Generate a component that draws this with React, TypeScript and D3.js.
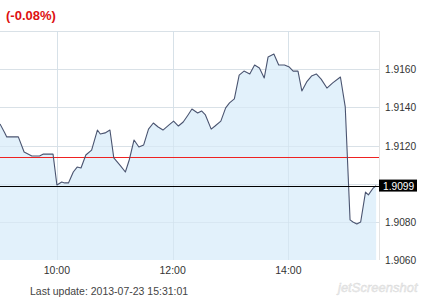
import React from "react";
import * as d3 from "d3";

const times: string[] = [
  "09:01","09:06","09:08","09:20","09:26","09:34","09:42","09:46","09:56","10:00",
  "10:05","10:08","10:12","10:17","10:21","10:25","10:30","10:36","10:42","10:45",
  "10:50","10:55","10:59","11:06","11:11","11:15","11:20","11:25","11:30","11:35",
  "11:40","11:45","11:50","11:56","12:01","12:06","12:11","12:16","12:20","12:26",
  "12:30","12:34","12:40","12:44","12:50","12:55","12:59","13:04","13:09","13:14",
  "13:20","13:25","13:30","13:35","13:39","13:45","13:50","13:56","14:01","14:05",
  "14:10","14:14","14:19","14:24","14:29","14:34","14:40","14:46","14:54","14:59",
  "15:04","15:07","15:11","15:15","15:20","15:23","15:28","15:31",
];
const prices: number[] = [
  1.91313,1.91266,1.91245,1.91245,1.91166,1.91145,1.91145,1.91155,1.91155,1.90993,
  1.91009,1.91004,1.91004,1.91061,1.91087,1.91082,1.91150,1.91176,1.91281,1.91260,
  1.91266,1.91281,1.91135,1.91093,1.91061,1.91124,1.91229,1.91192,1.91203,1.91286,
  1.91318,1.91297,1.91281,1.91307,1.91328,1.91302,1.91323,1.91360,1.91391,1.91370,
  1.91381,1.91360,1.91286,1.91302,1.91328,1.91397,1.91423,1.91444,1.91569,1.91590,
  1.91575,1.91622,1.91606,1.91554,1.91664,1.91679,1.91622,1.91622,1.91611,1.91590,
  1.91590,1.91486,1.91533,1.91564,1.91575,1.91548,1.91501,1.91528,1.91559,1.91402,
  1.90810,1.90799,1.90789,1.90799,1.90956,1.90941,1.90977,1.90990,
];
const yTicks: number[] = [1.906, 1.908, 1.91, 1.912, 1.914, 1.916, 1.918];
const yLabels: number[] = [1.906, 1.908, 1.912, 1.914, 1.916];
const xTicks: string[] = ["10:00", "12:00", "14:00"];
const prevClose = 1.9114;
const lastPrice = 1.9099;
const changeText = "(-0.08%)";
const updateText = "Last update: 2013-07-23 15:31:01";

const toMin = (s: string) => {
  const [h, m] = s.split(":").map(Number);
  return h * 60 + m;
};

export default function App() {
  const W = 424, H = 301;
  const left = 0, right = 379, top = 31, bottom = 260;
  const x = d3.scaleLinear().domain([toMin("09:01"), toMin("15:34")]).range([left, right]);
  const y = d3.scaleLinear().domain([1.906, 1.918]).range([bottom, top]);
  const data = times.map((t, i) => ({ t: toMin(t), v: prices[i] }));
  const line = d3.line<{ t: number; v: number }>().x(d => x(d.t)).y(d => y(d.v));
  const area = d3.area<{ t: number; v: number }>().x(d => x(d.t)).y0(bottom).y1(d => y(d.v));
  const font = "'Liberation Sans', Arial, sans-serif";
  const py = (v: number) => Math.round(y(v)) + 0.5;
  const px = (t: string) => Math.round(x(toMin(t))) + 0.5;
  return (
    <svg width={W} height={H} style={{ position: "absolute", left: 0, top: 0 }} fontFamily={font}>
      <rect width={W} height={H} fill="#fff" />
      <text x={6} y={20} fill="#dd1111" fontSize={13} fontWeight="bold">{changeText}</text>
      {yTicks.filter(v => v > 1.9065).map(v => (
        <line key={v} x1={left} x2={right} y1={py(v)} y2={py(v)} stroke="#e3e3e3" shapeRendering="crispEdges" />
      ))}
      {xTicks.map(t => (
        <line key={t} x1={px(t)} x2={px(t)} y1={top} y2={bottom} stroke="#e3e3e3" shapeRendering="crispEdges" />
      ))}
      <path d={area(data) || ""} fill="#dfeffb" fillOpacity={0.9} />
      {xTicks.map(t => (
        <line key={"g" + t} x1={px(t)} x2={px(t)} y1={top} y2={bottom} stroke="#cfdfeb" strokeOpacity={0.6} shapeRendering="crispEdges" />
      ))}
      {yTicks.filter(v => v > 1.9065).map(v => (
        <line key={"h" + v} x1={left} x2={right} y1={py(v)} y2={py(v)} stroke="#cfdfeb" strokeOpacity={0.5} shapeRendering="crispEdges" />
      ))}
      <line x1={right + 0.5} x2={right + 0.5} y1={top} y2={bottom} stroke="#e3e3e3" shapeRendering="crispEdges" />
      <line x1={left} x2={right} y1={py(prevClose)} y2={py(prevClose)} stroke="#ee2222" shapeRendering="crispEdges" />
      <path d={line(data) || ""} fill="none" stroke="#4a5470" strokeWidth={1.1} strokeLinejoin="round" />
      <line x1={left} x2={right} y1={py(lastPrice)} y2={py(lastPrice)} stroke="#000" shapeRendering="crispEdges" />
      {yLabels.map(v => (
        <text key={"l" + v} x={385} y={y(v) + 4} fontSize={10.2} fill="#333">{v.toFixed(4)}</text>
      ))}
      <rect x={379} y={y(lastPrice) - 6} width={38} height={12} fill="#000" />
      <text x={383} y={y(lastPrice) + 4} fontSize={10.2} fill="#fff">{lastPrice.toFixed(4)}</text>
      {xTicks.map(t => (
        <text key={"x" + t} x={x(toMin(t))} y={274} fontSize={10.5} fill="#333" textAnchor="middle">{t}</text>
      ))}
      <text x={30} y={295} fontSize={10.5} fill="#444">{updateText}</text>
      <text x={338} y={292} fontSize={13} fill="#ececec" fontStyle="italic" stroke="#d8d8d8" strokeWidth={0.4}>jetScreenshot</text>
    </svg>
  );
}
